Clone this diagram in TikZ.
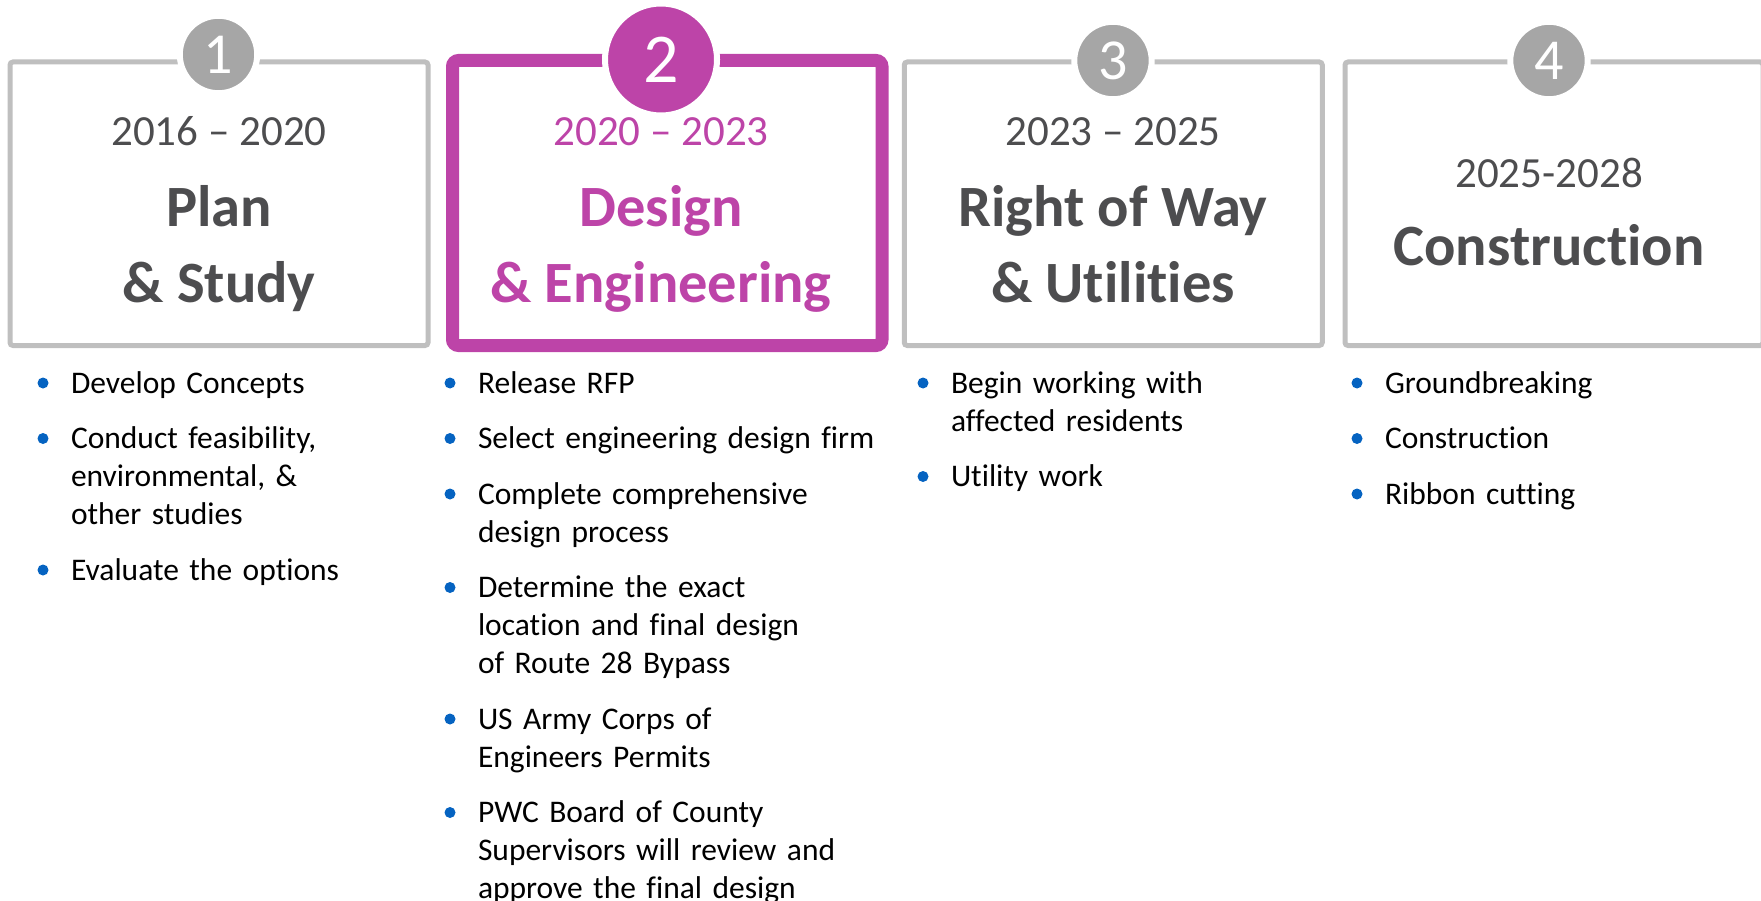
\documentclass[tikz,border=0pt]{standalone}
\usepackage{fontspec}
\setmainfont{Carlito}[Ligatures=NoCommon]
\usepackage{tikz}
\usetikzlibrary{positioning}
\definecolor{framegray}{HTML}{BFBFBF}
\definecolor{dotgray}{HTML}{A6A6A6}
\definecolor{talkpink}{HTML}{BD44A8}
\definecolor{inkgray}{HTML}{4D4D4F}
\definecolor{bulletblue}{HTML}{0563C1}
\tikzset{
    %Define style for the phase frames
    phase/.style={
    rectangle,
    rounded corners=3pt,
    draw=framegray, line width=5pt,
    minimum width=418pt,
    minimum height=283.5pt,
    inner sep=0pt
    },
    current/.style={
    phase,
    draw=talkpink, line width=13pt,
    rounded corners=6pt,
    minimum width=429.5pt,
    minimum height=285pt
    },
    % Define style for the numbered discs
    numdot/.style={
    circle,
    fill=dotgray,
    draw=white, line width=6pt,
    minimum size=77.4pt,
    inner sep=0pt,
    text=white,
    font=\fontsize{58}{58}\selectfont
    },
    curdot/.style={
    numdot,
    fill=talkpink,
    minimum size=112pt,
    font=\fontsize{70}{70}\selectfont
    },
    % Define style for the texts
    years/.style={
    anchor=base, inner sep=0pt,
    text=inkgray,
    font=\fontsize{43}{50}\selectfont
    },
    heading/.style={
    anchor=north, inner sep=0pt, outer sep=0pt,
    align=center,
    text=inkgray,
    font=\fontsize{58.5}{76}\bfseries\selectfont,
    execute at begin node=\strut,
    execute at end node=\strut
    },
    item/.style={
    anchor=north west, inner sep=0pt, outer sep=0pt,
    text width=420pt, align=left,
    font=\fontsize{31.5}{38}\selectfont,
    execute at begin node=\strut,
    execute at end node=\strut
    }
}
\begin{document}
\begin{tikzpicture}[x=1pt,y=-1pt,node distance=17.5pt]
\useasboundingbox (0,0) rectangle (1761,901);
\clip (0,0) rectangle (1761,901);
% frames
\node[phase](p1) at (219,203.75){};
\node[current](p2) at (667.25,203){};
\node[phase](p3) at (1113.25,203.75){};
\node[phase](p4) at (1554,203.75){};
% numbers
\node[numdot](n1) at (218.5,54.5){1};
\node[curdot](n2) at (661,59.5){2};
\node[numdot](n3) at (1113,60.5){3};
\node[numdot](n4) at (1549,60.5){4};
% titles
\node[years](y1) at (219,146){2016 – 2020};
\node[years, text=talkpink](y2) at (661,146){2020 – 2023};
\node[years](y3) at (1113,146){2023 – 2025};
\node[years](y4) at (1549,188){2025-2028};
\node[heading](h1) at (219,185.5){Plan\\\& Study};
\node[heading, text=talkpink](h2) at (661,185){Design\\\& Engineering};
\node[heading](h3) at (1113,185.5){Right of Way\\\& Utilities};
\node[heading](h4) at (1549,212){Construction};
% lists
\node[item](a1) at (71,366.4){Develop Concepts};
\node[item, below right=17.5pt and 0pt of a1.south west](a2){Conduct feasibility,\\environmental, \&\\other studies};
\node[item, below right=17.5pt and 0pt of a2.south west](a3){Evaluate the options};
\node[item](b1) at (478,366.4){Release RFP};
\node[item, below right=17.5pt and 0pt of b1.south west](b2){Select engineering design firm};
\node[item, below right=17.5pt and 0pt of b2.south west](b3){Complete comprehensive\\design process};
\node[item, below right=17.5pt and 0pt of b3.south west](b4){Determine the exact\\location and final design\\of Route 28 Bypass};
\node[item, below right=17.5pt and 0pt of b4.south west](b5){US Army Corps of\\Engineers Permits};
\node[item, below right=17.5pt and 0pt of b5.south west](b6){PWC Board of County\\Supervisors will review and\\approve the final design};
\node[item](c1) at (951,366.4){Begin working with\\affected residents};
\node[item, below right=17.5pt and 0pt of c1.south west](c2){Utility work};
\node[item](d1) at (1385,366.4){Groundbreaking};
\node[item, below right=17.5pt and 0pt of d1.south west](d2){Construction};
\node[item, below right=17.5pt and 0pt of d2.south west](d3){Ribbon cutting};
\foreach \i in {a1,a2,a3,b1,b2,b3,b4,b5,b6,c1,c2,d1,d2,d3}
  \fill[bulletblue] ([xshift=-28pt,yshift=-16.6pt]\i.north west) circle (5.5pt);
\end{tikzpicture}
\end{document}
